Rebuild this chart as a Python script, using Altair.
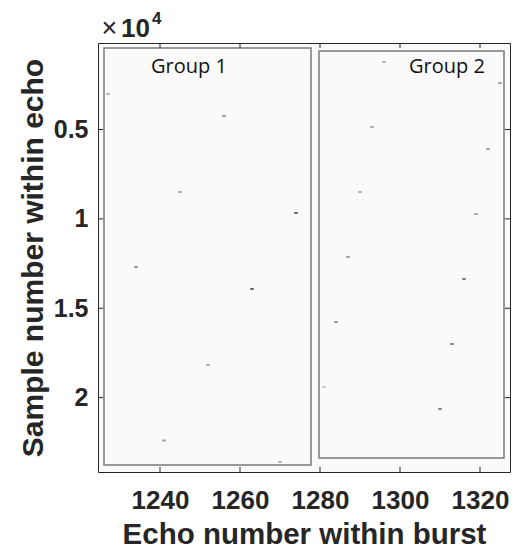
import altair as alt
import pandas as pd

# ---- data ----
echo_g1 = [1227, 1256, 1245, 1274, 1234, 1263, 1252, 1241, 1270]
sample_g1 = [3010, 4240, 8495, 9670, 12690, 13920, 18170, 22400, 23600]
amp_g1 = [0.36, 0.50, 0.43, 0.82, 0.56, 0.88, 0.43, 0.50, 0.36]

echo_g2 = [1296, 1325, 1293, 1322, 1290, 1319, 1287, 1316, 1284, 1313, 1281, 1310]
sample_g2 = [1220, 2400, 4860, 6090, 8495, 9725, 12130, 13360, 15770, 17000, 19400, 20630]
amp_g2 = [0.36, 0.50, 0.43, 0.50, 0.43, 0.43, 0.50, 0.70, 0.56, 0.63, 0.28, 0.70]

groups = ["Group 1", "Group 2"]
group_echo_start = [1226.0, 1279.75]
group_echo_end = [1277.75, 1326.0]
group_sample_start = [440, 608]
group_sample_end = [23767, 23375]
label_echo = [1247.25, 1311.75]
label_sample = [1820, 1820]

x_ticks = [1240, 1260, 1280, 1300, 1320]
y_ticks = [5000, 10000, 15000, 20000]
y_tick_labels = ["0.5", "1", "1.5", "2"]

x_domain = [1224.5, 1327.5]
y_domain = [160, 24160]

W, H = 412, 429
AX = "#262626"
FONT = "Liberation Sans"

dashes = pd.DataFrame({
    "echo": echo_g1 + echo_g2,
    "sample": sample_g1 + sample_g2,
    "amp": amp_g1 + amp_g2,
})
boxes = pd.DataFrame({
    "group": groups,
    "e0": group_echo_start, "e1": group_echo_end,
    "s0": group_sample_start, "s1": group_sample_end,
    "le": label_echo, "ls": label_sample,
})
xt = pd.DataFrame({"v": x_ticks})
yt = pd.DataFrame({"v": y_ticks})

xs = alt.Scale(domain=x_domain, nice=False, zero=False)
ys = alt.Scale(domain=y_domain, reverse=True, nice=False, zero=False)

label_expr = " : ".join(
    f"datum.value == {v} ? '{l}'" for v, l in zip(y_ticks, y_tick_labels)
) + " : ''"

x_axis = alt.Axis(
    values=x_ticks, format="d", title="Echo number within burst",
    titleFont=FONT, titleFontSize=29.5, titleFontWeight="bold", titleColor=AX,
    titleBaseline="alphabetic", titleY=71,
    labelFont=FONT, labelFontSize=26, labelFontWeight="bold", labelColor=AX,
    labelBaseline="alphabetic", labelPadding=36,
    ticks=False, tickSize=0, domain=False, grid=False,
)
y_axis = alt.Axis(
    values=y_ticks, labelExpr=label_expr, title="Sample number within echo",
    titleFont=FONT, titleFontSize=30, titleFontWeight="bold", titleColor=AX,
    titleBaseline="alphabetic", titleX=-56,
    labelFont=FONT, labelFontSize=25, labelFontWeight="bold", labelColor=AX,
    labelPadding=10,
    ticks=False, tickSize=0, domain=False, grid=False,
)

dash_layer = alt.Chart(dashes).mark_tick(orient="horizontal", size=3.5, thickness=2).encode(
    x=alt.X("echo:Q", scale=xs, axis=x_axis),
    y=alt.Y("sample:Q", scale=ys, axis=y_axis),
    color=alt.Color("amp:Q", scale=alt.Scale(domain=[0, 1], range=["#fafafa", "#000000"]), legend=None),
)

box_layer = alt.Chart(boxes).mark_rect(fillOpacity=0, stroke="#7a7a7a", strokeWidth=1.5).encode(
    x=alt.X("e0:Q", scale=xs, axis=x_axis), x2="e1:Q",
    y=alt.Y("s0:Q", scale=ys, axis=y_axis), y2="s1:Q",
)

label_layer = alt.Chart(boxes).mark_text(
    font="Open Sans", fontSize=20, align="center", baseline="alphabetic", color="#111111"
).encode(
    x=alt.X("le:Q", scale=xs, axis=x_axis),
    y=alt.Y("ls:Q", scale=ys, axis=y_axis),
    text="group:N",
)

TL = 5
left_ticks = alt.Chart(yt).mark_rule(color=AX, strokeWidth=1).encode(
    y=alt.Y("v:Q", scale=ys, axis=y_axis), x=alt.value(0), x2=alt.value(TL))
right_ticks = alt.Chart(yt).mark_rule(color=AX, strokeWidth=1).encode(
    y=alt.Y("v:Q", scale=ys, axis=y_axis), x=alt.value(W - TL), x2=alt.value(W))
top_ticks = alt.Chart(xt).mark_rule(color=AX, strokeWidth=1).encode(
    x=alt.X("v:Q", scale=xs, axis=x_axis), y=alt.value(0), y2=alt.value(TL))
bottom_ticks = alt.Chart(xt).mark_rule(color=AX, strokeWidth=1).encode(
    x=alt.X("v:Q", scale=xs, axis=x_axis), y=alt.value(H - TL), y2=alt.value(H))

one = pd.DataFrame({"a": [0]})
times = alt.Chart(one).mark_text(text="×", font=FONT, fontSize=27, align="center",
                                 baseline="alphabetic", color=AX).encode(
    x=alt.value(11.5), y=alt.value(-6))
ten = alt.Chart(one).mark_text(text="10", font=FONT, fontSize=26, fontWeight="bold",
                               align="left", baseline="alphabetic", color=AX).encode(
    x=alt.value(23), y=alt.value(-6))
four = alt.Chart(one).mark_text(text="4", font=FONT, fontSize=17, fontWeight="bold",
                                align="left", baseline="alphabetic", color=AX).encode(
    x=alt.value(54), y=alt.value(-19))

chart = alt.layer(
    dash_layer, box_layer, label_layer,
    left_ticks, right_ticks, top_ticks, bottom_ticks,
    times, ten, four,
).properties(
    width=W, height=H,
    autosize=alt.AutoSizeParams(type="none"),
    padding={"left": 98, "top": 43, "right": 5, "bottom": 78},
    background="white",
).configure_view(stroke=AX, strokeWidth=1, fill="#fafafa")

chart.save("out.html", embed_options={"renderer": "svg", "actions": False})
